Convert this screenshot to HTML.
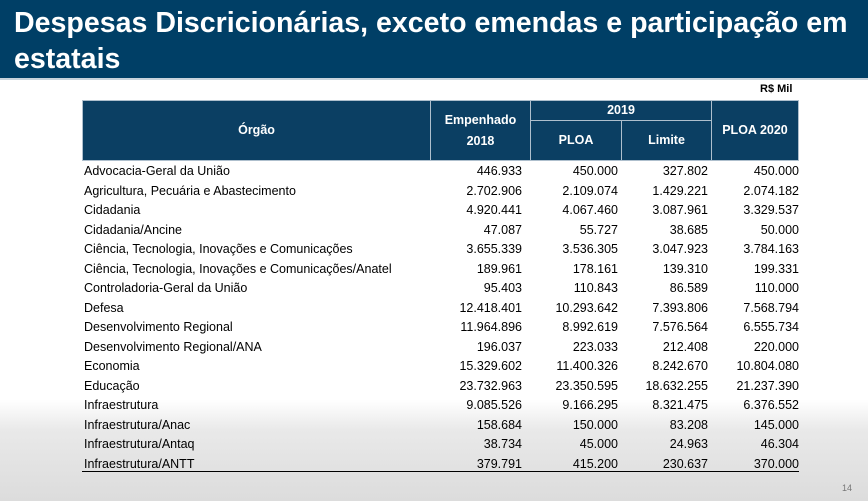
<!DOCTYPE html>
<html><head><meta charset="utf-8"><style>
body{margin:0;width:868px;height:501px;overflow:hidden;font-family:"Liberation Sans",sans-serif;position:relative;
background:linear-gradient(#fff 0,#fff 400px,#e9e9e9 430px,#dcdcdc 501px);}
#title{position:absolute;left:0;top:0;width:868px;height:78px;background:#003f66;border-bottom:2px solid #c8d3dc;}
#title div{position:absolute;left:14px;color:#fff;font-weight:bold;font-size:29px;white-space:nowrap;transform-origin:0 0;transform:scaleX(0.985);}
.h{position:absolute;background:#0b3f63;color:#fff;font-weight:bold;font-size:12.5px;display:flex;align-items:center;justify-content:center;text-align:center;line-height:21px;box-sizing:border-box;border:1.5px solid #aebfcd;}
.c{position:absolute;font-size:12.5px;color:#000;white-space:nowrap;}
.r{text-align:right;}
</style></head><body>
<div id="title">
<div style="top:7px">Despesas Discricionárias, exceto emendas e participação em</div>
<div style="top:43px">estatais</div>
</div>
<div class="c" style="left:760px;top:83px;font-weight:bold;font-size:11px">R$ Mil</div>
<div id="tbl">
<div class="h" style="left:82px;top:100px;width:349px;height:61px">Órgão</div>
<div class="h" style="left:430px;top:100px;width:101px;height:61px">Empenhado<br>2018</div>
<div class="h" style="left:530px;top:100px;width:182px;height:21px">2019</div>
<div class="h" style="left:530px;top:120px;width:92px;height:41px">PLOA</div>
<div class="h" style="left:621px;top:120px;width:91px;height:41px">Limite</div>
<div class="h" style="left:711px;top:100px;width:88px;height:61px">PLOA 2020</div>
</div>
<div style="position:absolute;left:82px;top:471px;width:717px;height:1px;background:#000"></div>
<div class="c" style="left:842px;top:483px;font-size:9px;color:#777">14</div>
<script>
const orgaos=["Advocacia-Geral da União","Agricultura, Pecuária e Abastecimento","Cidadania","Cidadania/Ancine","Ciência, Tecnologia, Inovações e Comunicações","Ciência, Tecnologia, Inovações e Comunicações/Anatel","Controladoria-Geral da União","Defesa","Desenvolvimento Regional","Desenvolvimento Regional/ANA","Economia","Educação","Infraestrutura","Infraestrutura/Anac","Infraestrutura/Antaq","Infraestrutura/ANTT"];
const empenhado2018=["446.933","2.702.906","4.920.441","47.087","3.655.339","189.961","95.403","12.418.401","11.964.896","196.037","15.329.602","23.732.963","9.085.526","158.684","38.734","379.791"];
const ploa2019=["450.000","2.109.074","4.067.460","55.727","3.536.305","178.161","110.843","10.293.642","8.992.619","223.033","11.400.326","23.350.595","9.166.295","150.000","45.000","415.200"];
const limite2019=["327.802","1.429.221","3.087.961","38.685","3.047.923","139.310","86.589","7.393.806","7.576.564","212.408","8.242.670","18.632.255","8.321.475","83.208","24.963","230.637"];
const ploa2020=["450.000","2.074.182","3.329.537","50.000","3.784.163","199.331","110.000","7.568.794","6.555.734","220.000","10.804.080","21.237.390","6.376.552","145.000","46.304","370.000"];
const cols=[[empenhado2018,522,'empenhado-2018'],[ploa2019,618,'ploa-2019'],[limite2019,708,'limite-2019'],[ploa2020,799,'ploa-2020']];
const tbl=document.getElementById('tbl');
orgaos.forEach((o,i)=>{
  const y=164+i*19.5;
  const d=document.createElement('div');d.className='c';d.style.left='84px';d.style.top=y+'px';d.textContent=o;
  
  
  tbl.appendChild(d);
  cols.forEach(([arr,right,name])=>{
    const e=document.createElement('div');e.className='c r';e.style.left=(right-100)+'px';e.style.width='100px';e.style.top=y+'px';e.textContent=arr[i];
    
    
    tbl.appendChild(e);
  });
});
</script>
</body></html>
